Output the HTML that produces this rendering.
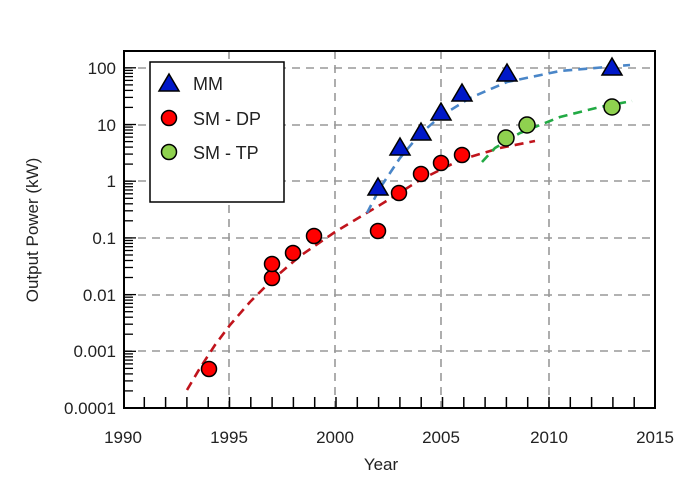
<!DOCTYPE html>
<html><head><meta charset="utf-8"><style>body{margin:0;background:#fff}svg{display:block}text{font-family:"Liberation Sans",sans-serif;fill:#222}</style></head><body>
<svg width="686" height="489" viewBox="0 0 686 489">
<defs>
<g id="dec" stroke="#000" stroke-width="1.3">
<line x1="124" y1="0" x2="136" y2="0"/>
<line x1="124" y1="-17.1" x2="133" y2="-17.1"/><line x1="124" y1="-27.1" x2="133" y2="-27.1"/><line x1="124" y1="-34.1" x2="133" y2="-34.1"/><line x1="124" y1="-39.6" x2="133" y2="-39.6"/><line x1="124" y1="-44.1" x2="133" y2="-44.1"/><line x1="124" y1="-47.9" x2="133" y2="-47.9"/><line x1="124" y1="-51.2" x2="133" y2="-51.2"/><line x1="124" y1="-54.1" x2="133" y2="-54.1"/>
</g>
</defs>
<g stroke="#999" stroke-width="1.6" stroke-dasharray="8,6">
<line x1="229" y1="51" x2="229" y2="408"/><line x1="335" y1="51" x2="335" y2="408"/><line x1="441" y1="51" x2="441" y2="408"/><line x1="549" y1="51" x2="549" y2="408"/>
<line x1="124" y1="68" x2="655" y2="68"/><line x1="124" y1="125" x2="655" y2="125"/><line x1="124" y1="181" x2="655" y2="181"/><line x1="124" y1="238" x2="655" y2="238"/><line x1="124" y1="295" x2="655" y2="295"/><line x1="124" y1="351" x2="655" y2="351"/>
</g>
<g fill="none" stroke-width="2.6" stroke-dasharray="9,6" stroke-linejoin="round">
<polyline points="187,390 200,368 215,345 230,325 250,302 272,280 300,256 335,232 380,205 420,180 460,160 500,148 535,141" stroke="#c0141c"/>
<polyline points="367,213 380,188 400,158 420,134 441,116 470,98 507,82 560,71 630,65" stroke="#4a86c8"/>
<polyline points="482,162 495,148 520,133 560,117 600,107 632,101" stroke="#22aa44"/>
</g>
<rect x="124" y="51" width="531" height="357" fill="none" stroke="#000" stroke-width="2"/>
<use href="#dec" transform="translate(0,408)"/><use href="#dec" transform="translate(0,351.3)"/><use href="#dec" transform="translate(0,294.6)"/><use href="#dec" transform="translate(0,237.9)"/><use href="#dec" transform="translate(0,181.2)"/><use href="#dec" transform="translate(0,124.5)"/>
<g stroke="#000" stroke-width="1.3">
<line x1="124" y1="67.8" x2="136" y2="67.8"/><line x1="124" y1="50.7" x2="133" y2="50.7"/>
</g>
<path stroke="#000" stroke-width="1.5" d="M144.3,408v-11M165.6,408v-11M186.9,408v-11M208.2,408v-11M229.5,408v-11M250.8,408v-11M272.1,408v-11M293.4,408v-11M314.7,408v-11M336,408v-11M357.3,408v-11M378.6,408v-11M399.9,408v-11M421.2,408v-11M442.5,408v-11M463.8,408v-11M485.1,408v-11M506.4,408v-11M527.7,408v-11M549,408v-11M570.3,408v-11M591.6,408v-11M612.9,408v-11M634.2,408v-11"/>
<g fill="#f00" stroke="#000" stroke-width="1.5">
<circle cx="209" cy="369" r="7.5"/><circle cx="272" cy="278" r="7.5"/><circle cx="272" cy="264" r="7.5"/><circle cx="293" cy="253" r="7.5"/><circle cx="314" cy="236" r="7.5"/><circle cx="378" cy="231" r="7.5"/><circle cx="399" cy="193" r="7.5"/><circle cx="421" cy="174" r="7.5"/><circle cx="441" cy="163" r="7.5"/><circle cx="462" cy="155" r="7.5"/>
</g>
<g fill="#8fd14f" stroke="#000" stroke-width="1.5">
<circle cx="506" cy="138" r="8"/><circle cx="527" cy="125" r="8"/><circle cx="612" cy="107" r="8"/>
</g>
<g fill="#0018c8" stroke="#000" stroke-width="1.5">
<path d="M378,178 l10,17 h-20z"/><path d="M400,138 l10,17 h-20z"/><path d="M421,123 l10,17 h-20z"/><path d="M441,103 l10,17 h-20z"/><path d="M462,84 l10,17 h-20z"/><path d="M507,64 l10,17 h-20z"/><path d="M612,58 l10,17 h-20z"/>
</g>
<rect x="150" y="62" width="134" height="140" fill="#fff" stroke="#000" stroke-width="1.5"/>
<path d="M169,74 l10,17 h-20z" fill="#0018c8" stroke="#000" stroke-width="1.5"/>
<circle cx="169" cy="118" r="7.5" fill="#f00" stroke="#000" stroke-width="1.5"/>
<circle cx="169" cy="152" r="7.5" fill="#8fd14f" stroke="#000" stroke-width="1.5"/>
<text x="193" y="90" font-size="18">MM</text>
<text x="193" y="125" font-size="18">SM - DP</text>
<text x="193" y="159" font-size="18">SM - TP</text>
<g font-size="17" text-anchor="end">
<text x="116" y="74">100</text><text x="116" y="131">10</text><text x="116" y="187">1</text><text x="116" y="244">0.1</text><text x="116" y="301">0.01</text><text x="116" y="357">0.001</text><text x="116" y="414">0.0001</text>
</g>
<g font-size="17" text-anchor="middle">
<text x="123" y="443">1990</text><text x="229" y="443">1995</text><text x="335" y="443">2000</text><text x="441" y="443">2005</text><text x="549" y="443">2010</text><text x="655" y="443">2015</text>
<text x="381" y="470">Year</text>
<text transform="translate(38,230) rotate(-90)">Output Power (kW)</text>
</g>
</svg>
</body></html>
